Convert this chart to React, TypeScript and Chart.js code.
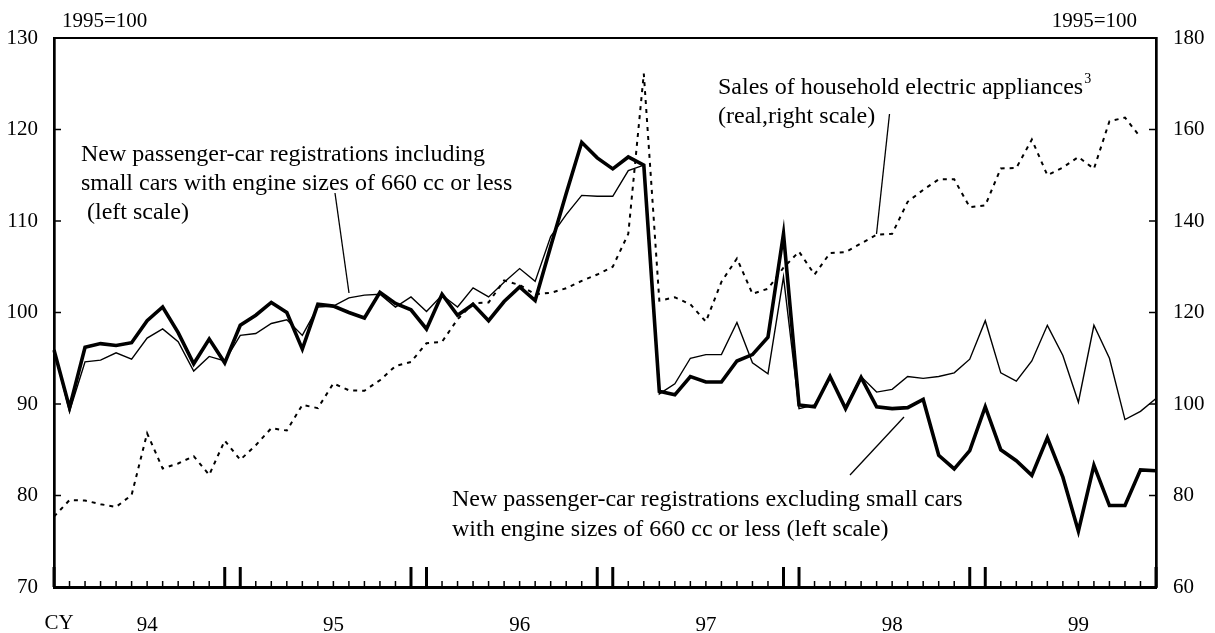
import React, { useEffect, useRef } from 'react';
import { Chart, registerables } from 'chart.js';

Chart.register(...registerables);

// ---- Data (monthly, Jan 1994 – Dec 1999) ----
const years = ['94', '95', '96', '97', '98', '99'];
const monthNames = ['01', '02', '03', '04', '05', '06', '07', '08', '09', '10', '11', '12'];
const months: string[] = [];
years.forEach((y) => monthNames.forEach((m) => months.push(`19${y}-${m}`)));

// New passenger-car registrations including small cars (left scale)
const carsIncludingSmall = [
  95.9, 89.2, 94.6, 94.8, 95.6, 94.9, 97.2, 98.2, 96.8, 93.6, 95.2, 94.7,
  97.5, 97.7, 98.8, 99.2, 97.5, 100.6, 100.7, 101.6, 101.9, 102.0, 100.6, 101.7,
  100.1, 101.9, 100.6, 102.7, 101.7, 103.3, 104.8, 103.4, 108.3, 110.7, 112.8, 112.7,
  112.7, 115.5, 116.1, 91.1, 92.2, 95.0, 95.4, 95.4, 98.9, 94.5, 93.3, 103.9,
  89.5, 89.9, 92.8, 89.7, 93.0, 91.3, 91.6, 93.0, 92.8, 93.0, 93.4, 94.9,
  99.1, 93.4, 92.5, 94.7, 98.6, 95.3, 90.2, 98.6, 95.0, 88.3, 89.2, 90.6,
];

// New passenger-car registrations excluding small cars (left scale)
const carsExcludingSmall = [
  95.9, 89.6, 96.2, 96.6, 96.4, 96.7, 99.1, 100.6, 97.8, 94.4, 97.1, 94.5,
  98.6, 99.7, 101.1, 100.0, 96.0, 100.9, 100.7, 100.0, 99.4, 102.2, 101.0, 100.3,
  98.2, 102.0, 99.7, 100.9, 99.1, 101.2, 102.8, 101.3, 107.2, 113.0, 118.6, 116.9,
  115.7, 117.0, 116.1, 91.4, 91.0, 93.0, 92.4, 92.4, 94.7, 95.4, 97.3, 108.6,
  89.9, 89.7, 93.0, 89.5, 92.9, 89.7, 89.5, 89.6, 90.5, 84.4, 82.9, 84.9,
  89.7, 85.0, 83.8, 82.2, 86.3, 82.0, 76.1, 83.3, 78.9, 78.9, 82.8, 82.7,
];

// Sales of household electric appliances (real, right scale)
const applianceSales: (number | null)[] = [
  75.4, 79.0, 78.9, 78.1, 77.5, 80.1, 93.6, 85.9, 87.0, 88.6, 84.5, 92.0,
  87.8, 91.0, 94.7, 94.2, 99.8, 99.1, 104.5, 103.0, 102.9, 105.2, 108.3, 109.2,
  113.3, 113.6, 118.5, 122.0, 122.2, 127.0, 126.0, 124.0, 124.3, 125.3, 126.9, 128.3,
  130.0, 137.2, 172.2, 122.6, 123.3, 121.8, 118.0, 126.7, 131.8, 124.1, 125.2, 129.8,
  133.3, 128.3, 133.0, 133.2, 135.1, 137.0, 137.2, 144.2, 146.8, 149.1, 149.1, 143.0,
  143.4, 151.5, 151.6, 157.8, 150.0, 151.7, 154.0, 151.4, 161.8, 162.6, 158.3, null,
];

const leftTicks = [70, 80, 90, 100, 110, 120, 130];
const rightTicks = [60, 80, 100, 120, 140, 160, 180];

const FONT = '"Liberation Serif", "Times New Roman", serif';

const decorPlugin = {
  id: 'decor',
  afterDraw(chart: any) {
    const { ctx, chartArea: ca, scales } = chart;
    const xs = scales.x;
    const yl = scales.y;
    const yr = scales.y1;
    ctx.save();
    ctx.strokeStyle = '#000';
    ctx.fillStyle = '#000';

    // top frame
    ctx.lineWidth = 2;
    ctx.beginPath();
    ctx.moveTo(ca.left, ca.top);
    ctx.lineTo(ca.right, ca.top);
    ctx.stroke();

    // x ticks (monthly, tall at Dec/Jan and ends)
    for (let i = 0; i < months.length; i++) {
      const px = xs.getPixelForValue(i);
      const m = i % 12;
      const tall = i === 0 || i === months.length - 1 || m === 11 || m === 0;
      ctx.lineWidth = tall ? 3 : 1.5;
      ctx.beginPath();
      ctx.moveTo(px, ca.bottom);
      ctx.lineTo(px, ca.bottom - (tall ? 20 : 6));
      ctx.stroke();
    }

    // y ticks pointing inward
    ctx.lineWidth = 1.5;
    leftTicks.forEach((v) => {
      const py = yl.getPixelForValue(v);
      ctx.beginPath();
      ctx.moveTo(ca.left, py);
      ctx.lineTo(ca.left + 7, py);
      ctx.stroke();
    });
    rightTicks.forEach((v) => {
      const py = yr.getPixelForValue(v);
      ctx.beginPath();
      ctx.moveTo(ca.right, py);
      ctx.lineTo(ca.right - 7, py);
      ctx.stroke();
    });

    // unit labels and CY
    ctx.font = `21px ${FONT}`;
    ctx.textBaseline = 'middle';
    ctx.textAlign = 'left';
    ctx.fillText('1995=100', ca.left + 8, 21);
    ctx.textAlign = 'right';
    ctx.fillText('1995=100', ca.right - 19, 21);
    ctx.textAlign = 'center';
    ctx.fillText('CY', 59, ca.bottom + 36);

    // annotations
    ctx.font = `24px ${FONT}`;
    ctx.textAlign = 'left';
    ctx.fillText('New passenger-car registrations including', 81, 155);
    ctx.fillText('small cars with engine sizes of 660 cc or less', 81, 184);
    ctx.fillText(' (left scale)', 81, 213);

    const s1 = 'Sales of household electric appliances';
    ctx.fillText(s1, 718, 88);
    const w1 = ctx.measureText(s1).width;
    ctx.font = `14px ${FONT}`;
    ctx.fillText('3', 718 + w1 + 1, 79);
    ctx.font = `24px ${FONT}`;
    ctx.fillText('(real,right scale)', 718, 117);

    ctx.fillText('New passenger-car registrations excluding small cars', 452, 500);
    ctx.fillText('with engine sizes of 660 cc or less (left scale)', 452, 530);

    // leader lines
    ctx.lineWidth = 1.3;
    const lines = [
      [335, 193, 349, 293],
      [889.5, 114, 876.5, 234],
      [850, 475, 904, 417],
    ];
    lines.forEach(([a, b, c, d]) => {
      ctx.beginPath();
      ctx.moveTo(a, b);
      ctx.lineTo(c, d);
      ctx.stroke();
    });
    ctx.restore();
  },
};

export default function App() {
  const ref = useRef<HTMLCanvasElement | null>(null);
  useEffect(() => {
    if (!ref.current) return;
    const chart = new Chart(ref.current, {
      type: 'line',
      data: {
        labels: months,
        datasets: [
          {
            label: 'excluding small cars',
            data: carsExcludingSmall,
            yAxisID: 'y',
            borderColor: '#000',
            borderWidth: 3.6,
            pointRadius: 0,
            tension: 0,
            fill: false,
          },
          {
            label: 'including small cars',
            data: carsIncludingSmall,
            yAxisID: 'y',
            borderColor: '#000',
            borderWidth: 1.4,
            pointRadius: 0,
            tension: 0,
            fill: false,
          },
          {
            label: 'appliances',
            data: applianceSales,
            yAxisID: 'y1',
            borderColor: '#000',
            borderWidth: 2,
            borderDash: [4, 5],
            pointRadius: 0,
            tension: 0,
            fill: false,
          },
        ],
      },
      options: {
        responsive: false,
        animation: false,
        devicePixelRatio: 1,
        layout: { padding: { top: 38, left: 0, right: 0, bottom: 0 } },
        plugins: { legend: { display: false }, tooltip: { enabled: false } },
        scales: {
          x: {
            type: 'category',
            offset: false,
            grid: { display: false, drawTicks: false },
            border: { display: true, width: 3, color: '#000' },
            ticks: {
              autoSkip: false,
              maxRotation: 0,
              padding: 26,
              color: '#000',
              font: { family: FONT, size: 21 },
              callback: (_v: any, i: number) => (i % 12 === 6 ? years[Math.floor(i / 12)] : ''),
            },
            afterFit: (s: any) => {
              s.height = 46;
            },
          },
          y: {
            position: 'left',
            min: 70,
            max: 130,
            grid: { display: false, drawTicks: false },
            border: { display: true, width: 2.7, color: '#000' },
            ticks: {
              stepSize: 10,
              padding: 16,
              color: '#000',
              font: { family: FONT, size: 21 },
            },
            afterFit: (s: any) => {
              s.width = 54;
            },
          },
          y1: {
            position: 'right',
            min: 60,
            max: 180,
            grid: { display: false, drawTicks: false },
            border: { display: true, width: 2.7, color: '#000' },
            ticks: {
              stepSize: 20,
              padding: 17,
              color: '#000',
              font: { family: FONT, size: 21 },
            },
            afterFit: (s: any) => {
              s.width = 59;
            },
          },
        },
      },
      plugins: [decorPlugin],
    });
    return () => chart.destroy();
  }, []);
  return (
    <div style={{ position: 'fixed', left: 0, top: 0, width: 1215, height: 633, background: '#fff' }}>
      <canvas ref={ref} width={1215} height={633} />
    </div>
  );
}
